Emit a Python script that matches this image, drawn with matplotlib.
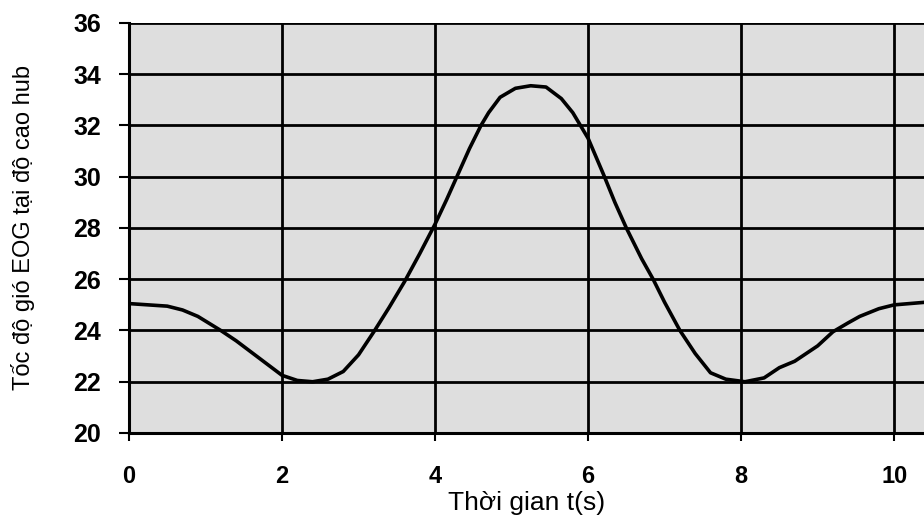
import matplotlib
matplotlib.use("Agg")
from matplotlib import pyplot as plt

# valori: viteza vantului EOG la inaltimea hub
t = [0, 0.5, 0.7, 0.9, 1.2, 1.4, 1.6, 1.8, 2.0, 2.2, 2.4, 2.6, 2.8, 3.0, 3.2,
     3.4, 3.6, 3.8, 4.0, 4.15, 4.3, 4.45, 4.6, 4.7, 4.85, 5.05, 5.25, 5.45,
     5.65, 5.8, 5.9, 6.0, 6.1, 6.2, 6.35, 6.5, 6.7, 6.85, 7.0, 7.2, 7.4, 7.6,
     7.8, 8.05, 8.3, 8.5, 8.7, 9.0, 9.2, 9.4, 9.55, 9.8, 10.0, 10.4]
v = [25.05, 24.95, 24.8, 24.55, 24.0, 23.6, 23.15, 22.7, 22.25, 22.05, 22.0,
     22.1, 22.4, 23.05, 23.95, 24.9, 25.9, 27.0, 28.15, 29.1, 30.1, 31.1, 32.0,
     32.5, 33.1, 33.45, 33.55, 33.5, 33.05, 32.5, 32.0, 31.5, 30.8, 30.1, 29.0,
     28.0, 26.8, 26.0, 25.1, 24.0, 23.1, 22.35, 22.1, 22.0, 22.15, 22.55, 22.8,
     23.4, 23.95, 24.3, 24.55, 24.85, 25.0, 25.1]

x_ticks = [0, 2, 4, 6, 8, 10]
y_ticks = [20, 22, 24, 26, 28, 30, 32, 34, 36]

plt.rcParams['font.family'] = ['Liberation Sans', 'DejaVu Sans']

fig = plt.figure(figsize=(9.24, 5.22), dpi=100)
ax = fig.add_axes([0.1396, 0.1705, 0.8604, 0.7855])
ax.set_facecolor('#dedede')

ax.plot(t, v, color='black', linewidth=2.6, zorder=3)

ax.set_xlim(0, 10.39)
ax.set_ylim(20, 36)
ax.set_xticks(x_ticks)
ax.set_yticks(y_ticks)

# grila neagra groasa
ax.grid(True, color='black', linewidth=2.0, zorder=1)
ax.set_axisbelow(True)

for s in ['left', 'bottom']:
    ax.spines[s].set_linewidth(2.2)
ax.spines['right'].set_visible(False)
ax.spines['top'].set_visible(False)

ax.tick_params(axis='y', length=7, width=1.5, pad=13, labelsize=18)
ax.tick_params(axis='x', length=6, width=1.5, pad=17, labelsize=17)
for lab in ax.get_xticklabels() + ax.get_yticklabels():
    lab.set_fontweight('bold')

ax.set_xlabel('Thời gian t(s)', fontsize=19)
ax.set_ylabel('Tốc độ gió EOG tại độ cao hub', fontsize=17)
ax.xaxis.set_label_coords(0.5, -0.142)
ax.yaxis.set_label_coords(-0.118, 0.5)

fig.savefig('out.png', dpi=100)
